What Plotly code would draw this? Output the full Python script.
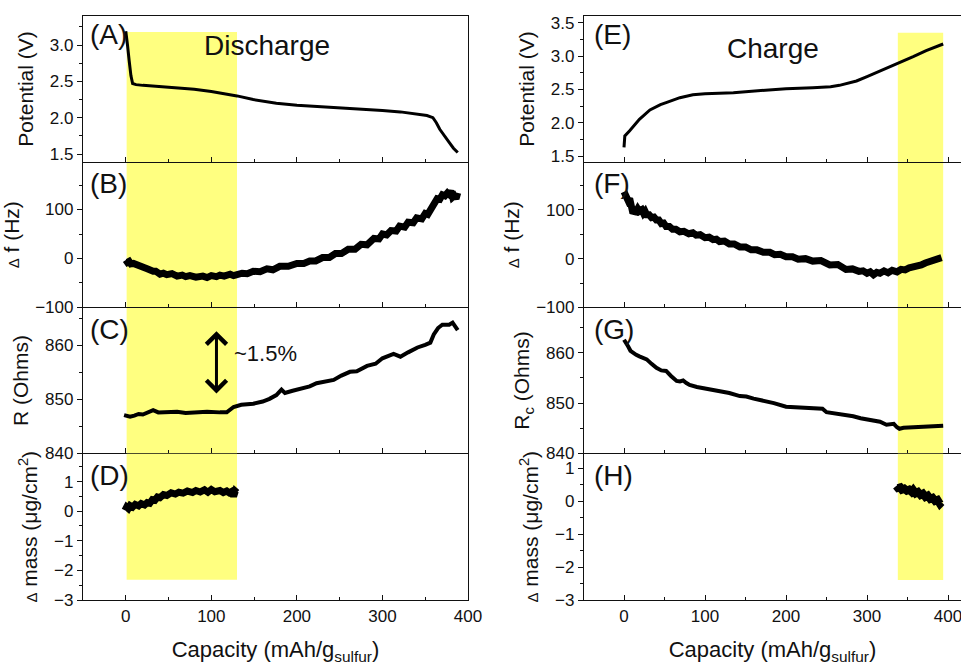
import plotly.graph_objects as go

# ---------------- data ----------------
# Discharge (left column)
dis_v_cap = [0, 1, 2, 4, 6, 8, 12, 20, 35, 48, 65, 80, 100, 115, 130, 149, 165, 176, 200, 225, 250, 275, 300, 321, 341, 352, 359, 363, 367, 372, 378, 383, 388]
dis_v = [3.19, 3.12, 3.0, 2.78, 2.58, 2.47, 2.455, 2.445, 2.43, 2.42, 2.41, 2.39, 2.36, 2.33, 2.30, 2.25, 2.22, 2.20, 2.17, 2.155, 2.14, 2.12, 2.10, 2.08, 2.05, 2.03, 2.00, 1.93, 1.84, 1.75, 1.66, 1.58, 1.52]

dis_f_cap = [0, 2, 4, 6, 9, 12, 15, 18, 22, 25, 28, 32, 35, 40, 44, 48, 54, 60, 66, 70, 75, 82, 90, 95, 100, 106, 110, 115, 122, 126, 130, 136, 142, 149, 157, 165, 172, 180, 190, 200, 208, 215, 222, 230, 238, 245, 252, 260, 268, 275, 282, 290, 296, 300, 305, 310, 316, 320, 326, 330, 336, 340, 346, 350, 353, 356, 360, 362, 364, 367, 370, 373, 376, 378, 380, 382, 384, 386, 388]
dis_f = [-3, -8, -6, -11, -10, -13, -12, -16, -19, -21, -24, -26, -26, -32, -30, -33, -31, -36, -34, -37, -35, -38, -36, -39, -35, -37, -34, -36, -32, -35, -33, -30, -31, -26, -27, -21, -23, -16, -16, -10, -10, -5, -5, 2, 2, 10, 10, 19, 19, 29, 28, 41, 40, 50, 48, 57, 56, 66, 64, 74, 73, 83, 81, 92, 90, 99, 108, 112, 122, 121, 130, 128, 134, 131, 138, 125, 128, 122, 134]

dis_r_cap = [-2, 5, 10, 15, 20, 28, 32, 38, 48, 60, 70, 80, 87, 95, 110, 118, 126, 135, 149, 160, 168, 176, 182, 186, 195, 204, 215, 223, 235, 243, 252, 262, 270, 282, 292, 300, 313, 321, 330, 341, 350, 356, 360, 365, 370, 378, 382, 385, 388]
dis_r = [847.1, 846.8, 847.0, 847.3, 847.2, 847.8, 848.0, 847.6, 847.6, 847.7, 847.5, 847.6, 847.5, 847.7, 847.6, 847.6, 848.6, 849.0, 849.2, 849.6, 850.1, 850.8, 851.8, 851.2, 851.6, 852.0, 852.4, 853.0, 853.3, 853.6, 854.4, 855.1, 855.2, 856.2, 856.6, 857.6, 858.4, 857.9, 858.7, 859.6, 860.1, 860.5, 862.0, 863.2, 863.8, 863.8, 864.2, 863.4, 862.8]

dis_m_cap = [-1, 1, 3, 5, 8, 11, 15, 18, 22, 25, 28, 31, 34, 37, 40, 44, 48, 53, 58, 62, 67, 72, 78, 82, 87, 92, 96, 100, 104, 110, 114, 118, 121, 124, 126, 128, 130]
dis_m = [0.03, 0.14, 0.09, 0.19, 0.14, 0.23, 0.18, 0.26, 0.21, 0.29, 0.27, 0.39, 0.37, 0.48, 0.46, 0.56, 0.53, 0.62, 0.58, 0.64, 0.61, 0.68, 0.63, 0.70, 0.65, 0.72, 0.64, 0.73, 0.66, 0.70, 0.63, 0.68, 0.62, 0.67, 0.50, 0.68, 0.63]

# Charge (right column)
chg_v_cap = [0, 0.5, 1, 7, 19, 32, 45, 52, 69, 85, 100, 135, 172, 200, 233, 255, 266, 287, 300, 316, 337, 357, 373, 394]
chg_v = [1.63, 1.72, 1.80, 1.88, 2.05, 2.19, 2.27, 2.30, 2.375, 2.42, 2.435, 2.45, 2.49, 2.51, 2.525, 2.54, 2.56, 2.625, 2.69, 2.775, 2.875, 2.99, 3.08, 3.18]

chg_f_cap = [0, 2, 3, 5, 7, 8, 10, 11, 13, 15, 17, 19, 22, 24, 26, 28, 31, 34, 37, 40, 43, 46, 49, 52, 56, 60, 64, 69, 74, 80, 85, 89, 94, 100, 105, 110, 114, 118, 124, 130, 136, 143, 150, 157, 164, 172, 180, 186, 193, 200, 208, 215, 224, 233, 243, 254, 264, 274, 282, 290, 295, 300, 304, 308, 312, 316, 321, 326, 331, 337, 342, 347, 352, 357, 362, 367, 372, 377, 381, 385, 389, 392]
chg_f = [137, 129, 131, 119, 123, 109, 111, 93, 97, 96, 102, 97, 100, 93, 97, 90, 90, 84, 85, 79, 79, 72, 73, 66, 66, 60, 60, 55, 56, 51, 53, 48, 49, 43, 44, 39, 40, 35, 36, 30, 30, 24, 24, 18, 18, 13, 13, 8, 9, 4, 4, -1, 0, -5, -4, -13, -12, -22, -21, -26, -25, -30, -27, -33, -28, -30, -25, -29, -24, -27, -22, -23, -19, -18, -14, -13, -9, -7, -4, -3, 0, 2]

chg_r_cap = [0, 3, 5, 8, 11, 15, 19, 24, 28, 34, 40, 46, 52, 58, 65, 69, 73, 77, 81, 90, 100, 108, 118, 130, 143, 151, 160, 172, 185, 200, 212, 225, 237, 245, 250, 266, 275, 283, 292, 300, 308, 316, 324, 333, 337, 340, 345, 357, 365, 373, 394]
chg_r = [862.6, 862.0, 861.3, 860.4, 860.0, 859.6, 859.3, 858.9, 858.7, 857.8, 857.0, 856.5, 856.4, 855.4, 854.4, 854.3, 854.5, 854.0, 853.6, 853.2, 852.9, 852.8, 852.4, 852.0, 851.4, 851.3, 850.9, 850.5, 850.0, 849.3, 849.2, 849.0, 848.9, 848.9, 848.2, 847.8, 847.7, 847.4, 847.0, 846.7, 846.6, 846.3, 845.7, 845.9, 845.2, 844.9, 845.1, 845.2, 845.2, 845.4, 845.5]

chg_m_cap = [336, 338, 341, 343, 346, 349, 352, 355, 357, 360, 363, 366, 369, 372, 375, 378, 381, 384, 387, 390, 392]
chg_m = [0.46, 0.40, 0.42, 0.35, 0.38, 0.32, 0.35, 0.28, 0.34, 0.24, 0.28, 0.19, 0.23, 0.13, 0.17, 0.07, 0.10, 0.01, 0.04, -0.08, -0.03]

# highlighted capacity windows (yellow) and their vertical extents
dis_window = [1, 130]
dis_window_top_v = 3.18
dis_window_bottom_m = -2.32
chg_window = [338, 394]
chg_window_top_v = 3.35
chg_window_bottom_m = -2.39

# arrow in panel C
arrow_cap = 106
arrow_r = [851.1, 862.9]

panel_labels = ["(A)", "(B)", "(C)", "(D)", "(E)", "(F)", "(G)", "(H)"]
y_titles = ["Potential (V)",
            "<span style='font-size:15px'>Δ</span> f (Hz)",
            "R (Ohms)",
            "<span style='font-size:15px'>Δ</span> mass (μg/cm<sup>2</sup>)",
            "Potential (V)",
            "<span style='font-size:15px'>Δ</span> f (Hz)",
            "R<sub>c</sub> (Ohms)",
            "<span style='font-size:15px'>Δ</span> mass (μg/cm<sup>2</sup>)"]
x_title = "Capacity (mAh/g<sub>sulfur</sub>)"

# ---------------- figure ----------------
FONT = "Liberation Sans, Arial, sans-serif"
INK = "#111111"
YELLOW = "#FFFF80"


def sfx(n):
    return "" if n == 1 else str(n)


series = [
    (dis_v_cap, dis_v, 3),
    (dis_f_cap, dis_f, 7),
    (dis_r_cap, dis_r, 4),
    (dis_m_cap, dis_m, 7),
    (chg_v_cap, chg_v, 3),
    (chg_f_cap, chg_f, 7),
    (chg_r_cap, chg_r, 4),
    (chg_m_cap, chg_m, 8),
]

y_ranges = [[1.39, 3.4], [-100, 197], [840, 867], [-3, 1.95],
            [1.41, 3.6], [-100, 198], [840, 869], [-3, 1.45]]
y_dticks = [0.5, 100, 10, 1, 0.5, 100, 10, 1]
y_formats = [".1f", "", "", "", ".1f", "", "", ""]

row_domains = [[0.75, 1.0], [0.5009, 0.75], [0.2509, 0.5009], [0.0, 0.2509]]
col_domains = [[0.0, 0.4385], [0.5706, 1.0]]
x_ranges = [[-50, 400], [-49.4, 416]]

fig = go.Figure()
for i, (xs, ys, w) in enumerate(series):
    s = sfx(i + 1)
    fig.add_trace(go.Scatter(
        x=xs, y=ys, mode="lines",
        line=dict(color="black", width=w, shape="linear"),
        xaxis=f"x{s}", yaxis=f"y{s}", showlegend=False, hoverinfo="skip"))

layout = dict(
    width=961, height=665,
    margin=dict(l=83, r=0, t=16, b=65, autoexpand=False),
    paper_bgcolor="white", plot_bgcolor="white",
    font=dict(family=FONT, size=17, color=INK),
    showlegend=False,
)

for i in range(8):
    s = sfx(i + 1)
    col = 0 if i < 4 else 1
    row = i % 4
    bottom = (row == 3)
    xa = dict(
        domain=col_domains[col], range=x_ranges[col], anchor=f"y{s}",
        showline=True, linecolor=INK, linewidth=1.3, mirror=(row == 0),
        ticks="inside", ticklen=5, tickwidth=1.2, tickcolor=INK,
        tick0=0, dtick=100, automargin=False, ticklabeloverflow="allow",
        minor=dict(ticks="inside", ticklen=3, tickwidth=1.2, tickcolor=INK, dtick=50, tick0=0),
        showgrid=False, zeroline=False,
        showticklabels=bottom,
        tickfont=dict(size=17, family=FONT, color=INK),
    )
    if bottom:
        xa["title"] = dict(text=x_title, font=dict(size=22, family=FONT, color=INK), standoff=20)
    ya = dict(
        domain=row_domains[row], range=y_ranges[i], anchor=f"x{s}",
        showline=True, linecolor=INK, linewidth=1.3, mirror=(col == 0),
        ticks="outside", ticklen=5, tickwidth=1.2, tickcolor=INK,
        dtick=y_dticks[i], tickformat=y_formats[i], automargin=False,
        minor=dict(ticks="outside", ticklen=3, tickwidth=1.2, tickcolor=INK, dtick=y_dticks[i] / 2),
        showgrid=False, zeroline=False,
        tickfont=dict(size=17, family=FONT, color=INK),
        title=dict(text=y_titles[i], font=dict(size=21, family=FONT, color=INK), standoff=10),
    )
    layout[f"xaxis{s}"] = xa
    layout[f"yaxis{s}"] = ya

fig.update_layout(**layout)

# yellow windows, one rectangle per panel
for i in range(8):
    s = sfx(i + 1)
    col = 0 if i < 4 else 1
    row = i % 4
    win = dis_window if col == 0 else chg_window
    if row == 0:
        top = dis_window_top_v if col == 0 else chg_window_top_v
        fig.add_shape(type="rect", xref=f"x{s}", yref=f"y{s}", x0=win[0], x1=win[1],
                      y0=y_ranges[i][0], y1=top, fillcolor=YELLOW, line_width=0, layer="below")
    elif row == 3:
        bot = dis_window_bottom_m if col == 0 else chg_window_bottom_m
        fig.add_shape(type="rect", xref=f"x{s}", yref=f"y{s}", x0=win[0], x1=win[1],
                      y0=bot, y1=y_ranges[i][1], fillcolor=YELLOW, line_width=0, layer="below")
    else:
        fig.add_shape(type="rect", xref=f"x{s}", yref=f"y{s} domain", x0=win[0], x1=win[1],
                      y0=0, y1=1, fillcolor=YELLOW, line_width=0, layer="below")

# panel labels
for i, lab in enumerate(panel_labels):
    s = sfx(i + 1)
    col = 0 if i < 4 else 1
    row = i % 4
    fig.add_annotation(text=lab, xref=f"x{s} domain", yref=f"y{s} domain",
                       x=0.012 if col == 0 else 0.02, y=0.995 if row == 0 else 0.97,
                       xanchor="left", yanchor="top", showarrow=False,
                       font=dict(size=28, family=FONT, color=INK))

fig.add_annotation(text="Discharge", xref="x domain", yref="y domain", x=0.478, y=0.795,
                   xanchor="center", yanchor="middle", showarrow=False,
                   font=dict(size=28, family=FONT, color=INK))
fig.add_annotation(text="Charge", xref="x5 domain", yref="y5 domain", x=0.501, y=0.78,
                   xanchor="center", yanchor="middle", showarrow=False,
                   font=dict(size=28, family=FONT, color=INK))

# double-headed arrow and label in panel C
fig.add_annotation(x=arrow_cap, y=arrow_r[0], ax=arrow_cap, ay=arrow_r[1],
                   xref="x3", yref="y3", axref="x3", ayref="y3", text="",
                   showarrow=True, arrowhead=4, startarrowhead=4, arrowside="end+start",
                   arrowsize=1.3, startarrowsize=1.3, arrowwidth=3, arrowcolor="black")
fig.add_annotation(text="~1.5%", xref="x3", yref="y3", x=124, y=858.5,
                   xanchor="left", yanchor="middle", showarrow=False,
                   font=dict(size=22, family=FONT, color=INK))

fig.write_html("out.html", config={"displayModeBar": False},
               post_script="document.body.style.margin='0px';document.body.style.overflow='hidden';")
